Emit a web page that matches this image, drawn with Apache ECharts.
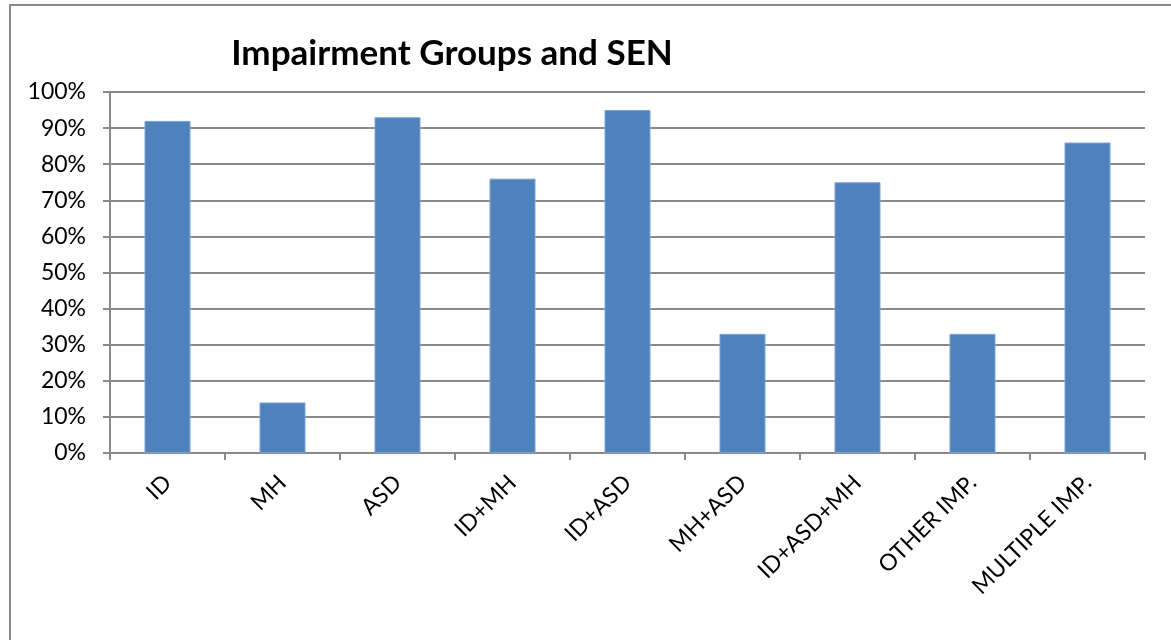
<!DOCTYPE html>
<html>
<head>
<meta charset="utf-8">
<script src="https://cdn.jsdelivr.net/npm/echarts@6/dist/echarts.min.js"></script>
<style>
  html, body { margin: 0; padding: 0; background: #fff; }
  #chart { width: 1171px; height: 640px; }
</style>
</head>
<body>
<div id="chart"></div>
<script>
// Données
const categories = ['ID', 'MH', 'ASD', 'ID+MH', 'ID+ASD', 'MH+ASD', 'ID+ASD+MH', 'OTHER IMP.', 'MULTIPLE IMP.'];
const values = [0.92, 0.14, 0.93, 0.76, 0.95, 0.33, 0.75, 0.33, 0.86];
const yTicks = [0, 0.1, 0.2, 0.3, 0.4, 0.5, 0.6, 0.7, 0.8, 0.9, 1];

const fontFamily = 'Lato, "Open Sans", sans-serif';

const chart = echarts.init(document.getElementById('chart'));

chart.setOption({
    animation: false,
    title: {
        text: 'Impairment Groups and SEN',
        left: 447,
        top: 31,
        textAlign: 'center',
        textStyle: {
            fontFamily: fontFamily,
            fontSize: 35,
            fontWeight: 'bold',
            color: '#000'
        }
    },
    graphic: [{
        type: 'rect',
        shape: { x: 10, y: 5, width: 1200, height: 700 },
        style: { fill: 'none', stroke: '#8a8a8a', lineWidth: 2 },
        silent: true
    }],
    grid: {
        left: 110,
        right: 26,
        top: 92,
        bottom: 187
    },
    xAxis: {
        type: 'category',
        data: categories,
        axisLine: { lineStyle: { color: '#8a8a8a', width: 2 } },
        axisTick: { show: true, length: 7, lineStyle: { color: '#8a8a8a', width: 2 } },
        axisLabel: {
            rotate: 45,
            margin: 26,
            fontFamily: fontFamily,
            fontSize: 23,
            color: '#000'
        }
    },
    yAxis: {
        type: 'value',
        min: yTicks[0],
        max: yTicks[yTicks.length - 1],
        interval: 0.1,
        axisLine: { show: true, lineStyle: { color: '#8a8a8a', width: 2 } },
        axisTick: { show: true, length: 7, lineStyle: { color: '#8a8a8a', width: 2 } },
        splitLine: { lineStyle: { color: '#8a8a8a', width: 2 } },
        axisLabel: {
            margin: 24,
            fontFamily: fontFamily,
            fontSize: 23,
            color: '#000',
            formatter: v => Math.round(v * 100) + '%'
        }
    },
    series: [{
        type: 'bar',
        data: values,
        barCategoryGap: '60%',
        itemStyle: {
            color: '#4f81bd',
            borderColor: '#7aa3d6',
            borderWidth: 1
        }
    }]
});
</script>
</body>
</html>
